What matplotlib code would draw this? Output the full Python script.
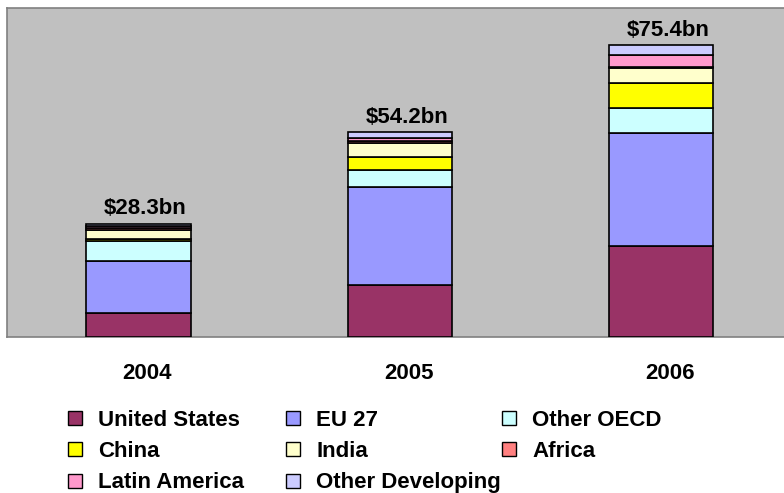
import matplotlib
matplotlib.use("Agg")
import matplotlib.pyplot as plt
import matplotlib.transforms as mtransforms
from matplotlib.patches import Patch
import numpy as np

years = ["2004", "2005", "2006"]
totals = ["$28.3bn", "$54.2bn", "$75.4bn"]
series = ["United States", "EU 27", "Other OECD", "China", "India", "Africa",
          "Latin America", "Other Developing"]
united_states = [6.2, 13.5, 23.6]
eu27 = [13.5, 25.3, 29.2]
other_oecd = [5.2, 4.4, 6.6]
china = [0.3, 3.3, 6.5]
india = [2.4, 3.8, 3.9]
africa = [0.5, 0.45, 0.2]
latin_america = [0.7, 0.85, 3.2]
other_developing = [0.5, 1.4, 2.4]
values = [united_states, eu27, other_oecd, china, india, africa,
          latin_america, other_developing]
colors = ["#993366", "#9999FF", "#CCFFFF", "#FFFF00", "#FFFFCC", "#FF8080",
          "#FF99CC", "#CCCCFF"]

plt.rcParams['font.family'] = ['Liberation Sans', 'DejaVu Sans']
W, H = 784, 493
fig = plt.figure(figsize=(W / 100, H / 100), dpi=100)
ax = fig.add_axes([6.5 / W, (H - 336.5) / H, (W - 6.5) / W, (336.5 - 8) / H])
ax.set_facecolor("#C0C0C0")

x = np.arange(len(years))
bottom = np.zeros(len(years))
for vals, col, name in zip(values, colors, series):
    ax.bar(x, vals, 0.4, bottom=bottom, color=col, edgecolor="black",
           linewidth=1.2, label=name, zorder=3)
    bottom += np.array(vals)

ax.set_xlim(-0.505, 2.47)
ax.set_ylim(0, 85.3)
ax.set_yticks([])
ax.set_xticks(x)
ax.set_xticklabels(years, fontsize=16, fontweight="bold")
ax.tick_params(axis="x", length=0, pad=19)
off = mtransforms.ScaledTranslation(9 / 100, 0, fig.dpi_scale_trans)
for lab in ax.get_xticklabels():
    lab.set_transform(lab.get_transform() + off)

for xi, tot, lab in zip(x, bottom, totals):
    ax.annotate(lab, (xi, tot), xytext=(5, 3), textcoords="offset points",
                ha="center", va="bottom", fontsize=16, fontweight="bold")

for side in ["top", "left", "bottom"]:
    ax.spines[side].set_color("#808080")
    ax.spines[side].set_linewidth(1.2)
ax.spines["right"].set_visible(False)

handles = [Patch(facecolor=c, edgecolor="black", linewidth=1) for c in colors]
cols = [[0, 3, 6], [1, 4, 7], [2, 5]]
col_x = [68, 286, 502]
for xs, idxs in zip(col_x, cols):
    fig.legend([handles[i] for i in idxs], [series[i] for i in idxs],
               loc="upper left", bbox_to_anchor=(xs / W, 1 - 410 / H),
               frameon=False, ncol=1, prop={"size": 16, "weight": "bold"},
               handlelength=0.63, handleheight=0.59, handletextpad=0.72,
               labelspacing=0.46, borderpad=0, borderaxespad=0)

fig.savefig("out.png", dpi=100, facecolor="white")
